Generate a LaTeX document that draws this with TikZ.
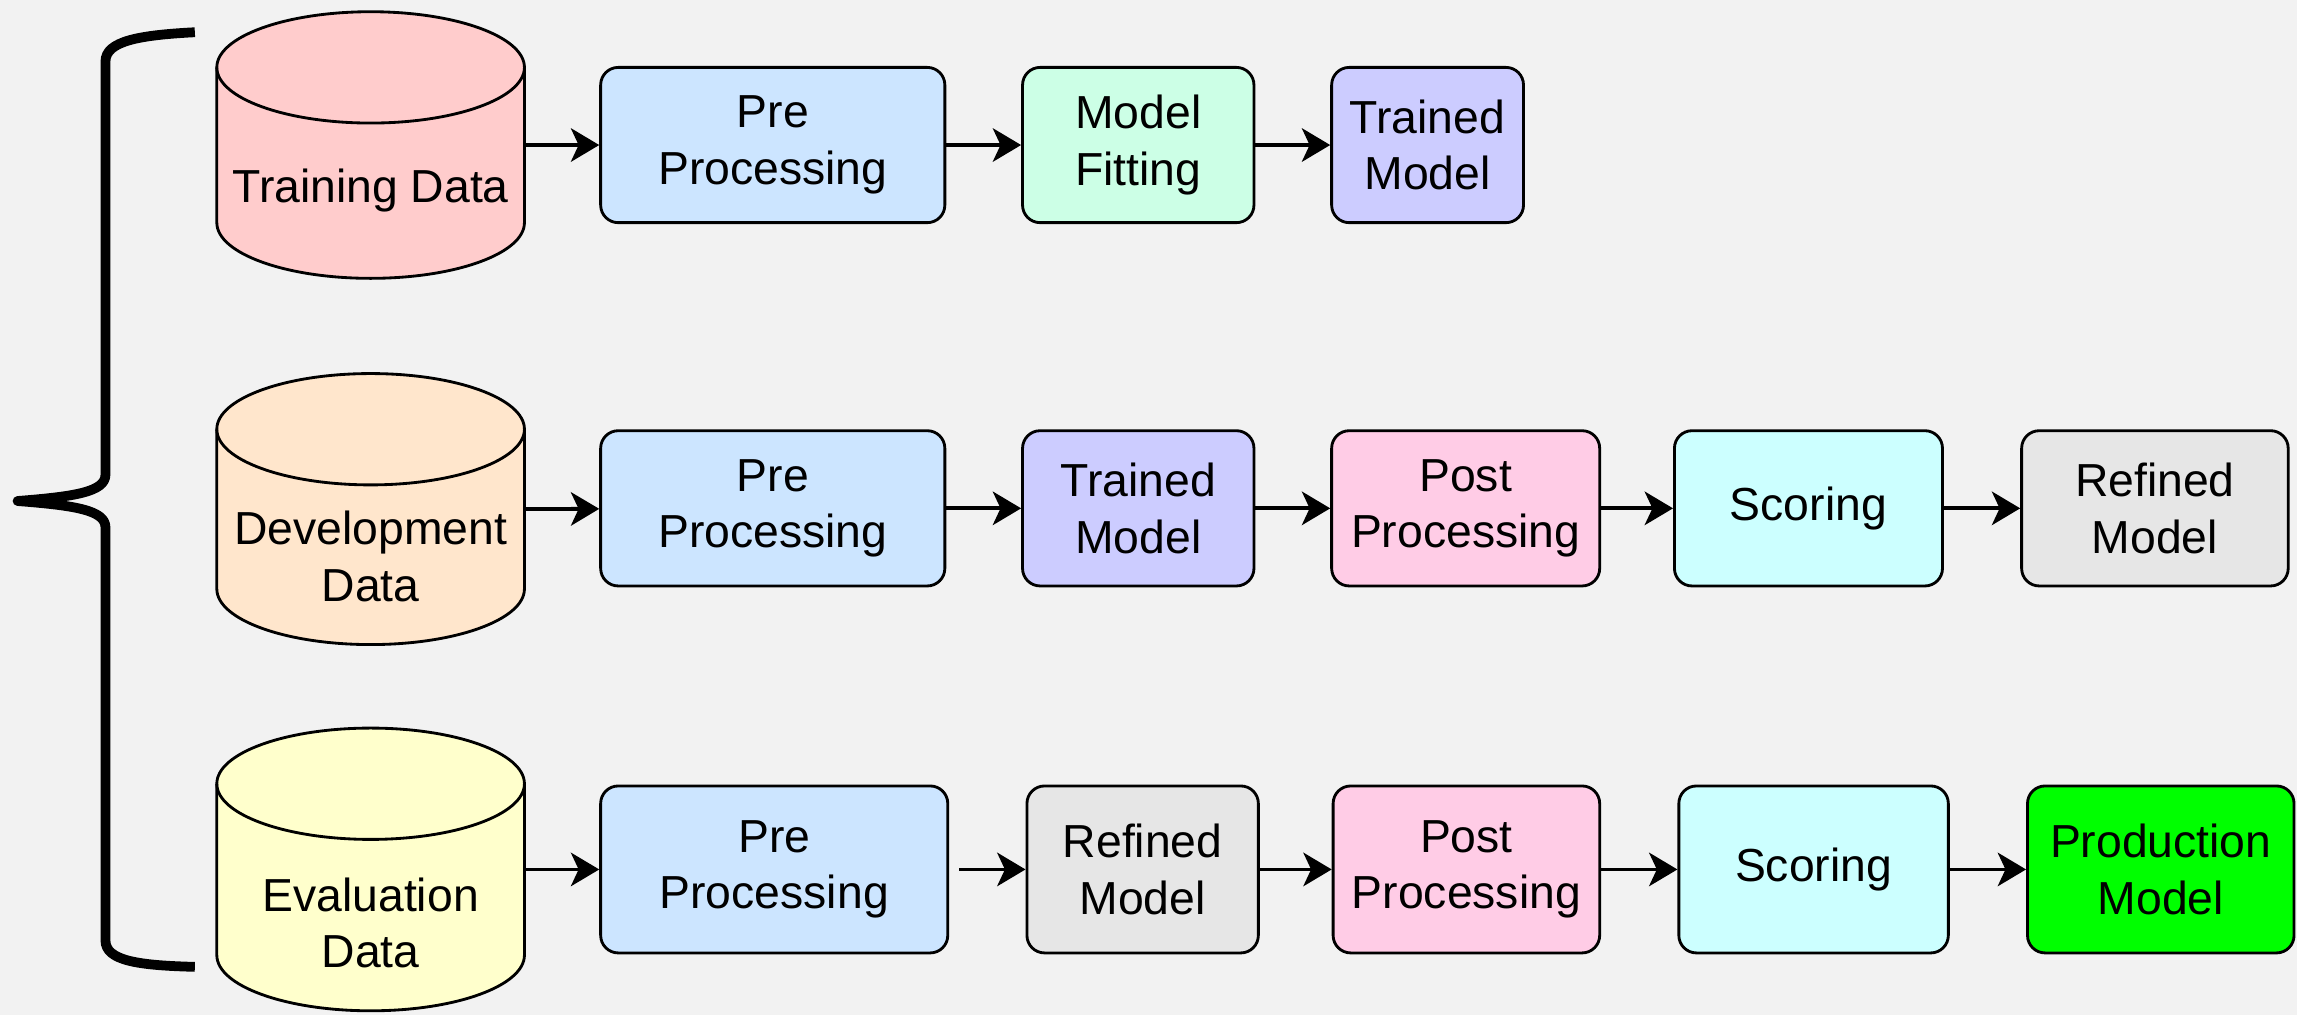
\documentclass[tikz,border=0pt]{standalone}
\usepackage{fontspec}
\setmainfont{Liberation Sans}
\usetikzlibrary{arrows.meta}

\definecolor{bggrey}{HTML}{F2F2F2}
\definecolor{trainred}{HTML}{FFCCCC}
\definecolor{devorange}{HTML}{FFE6CC}
\definecolor{evalyellow}{HTML}{FFFFCC}
\definecolor{preblue}{HTML}{CCE5FF}
\definecolor{fitgreen}{HTML}{CCFFE6}
\definecolor{modelblue}{HTML}{CCCCFF}
\definecolor{postpink}{HTML}{FFCCE6}
\definecolor{scorecyan}{HTML}{CCFFFF}
\definecolor{refinegrey}{HTML}{E6E6E6}
\definecolor{prodgreen}{HTML}{00FF00}

\tikzset{% styles for the pipeline
    stg/.style={draw=black, line width=1.1pt, rounded corners=0.24cm, align=center,
        inner sep=0pt, minimum height=2.12cm, font=\fontsize{18}{22}\selectfont},
    e/.style={-{Stealth[length=11pt, width=13pt, inset=3pt]}, line width=1.5pt},
    pics/drum/.style n args={3}{code={
        \draw[line width=1.1pt, fill=#1] (-105,#2) -- (-105,-#2)
            arc[start angle=180, end angle=360, x radius=105, y radius=38]
            -- (105,#2) arc[start angle=0, end angle=180, x radius=105, y radius=38] -- cycle;
        \draw[line width=1.1pt] (-105,#2) arc[start angle=180, end angle=360, x radius=105, y radius=38];
        \node[minimum width=4.2cm, minimum height=3.64cm, inner sep=0pt] (-body) at (0,0) {};
        \node[align=center, font=\fontsize{18}{22}\selectfont] (-text) at (0,22-#2) {#3};
    }}}

\begin{document}
\begin{tikzpicture}[x=0.02cm, y=0.02cm]
  \fill[bggrey] (0,0) rectangle (1568,-693);

  % brace grouping the three data sets
  \draw[line width=3.8pt, line join=round] (133,-22) .. controls (95,-24) and (72,-28) .. (72,-42)
      -- (72,-324) .. controls (72,-336) and (50,-339) .. (12,-342)
      .. controls (50,-345) and (72,-348) .. (72,-360)
      -- (72,-642) .. controls (72,-656) and (95,-659) .. (133,-660);

  % data sets
  \pic (train) at (253,-99) {drum={trainred}{53}{Training Data}};
  \pic (dev) at (253,-347.5) {drum={devorange}{54.5}{Development\\Data}};
  \pic (eval) at (253,-593.5) {drum={evalyellow}{58.5}{Evaluation\\Data}};

  % training
  \node[stg, fill=preblue, minimum width=4.7cm] (pre1) at (527.5,-99) {Pre\\Processing};
  \node[stg, fill=fitgreen, minimum width=3.16cm] (fit1) at (777,-99) {Model\\Fitting};
  \node[stg, fill=modelblue, minimum width=2.62cm] (model1) at (974.5,-99) {Trained\\Model};

  % development
  \node[stg, fill=preblue, minimum width=4.7cm] (pre2) at (527.5,-347) {Pre\\Processing};
  \node[stg, fill=modelblue, minimum width=3.16cm] (model2) at (777,-347) {Trained\\Model};
  \node[stg, fill=postpink, minimum width=3.66cm] (post2) at (1000.5,-347) {Post\\Processing};
  \node[stg, fill=scorecyan, minimum width=3.66cm] (score2) at (1234.5,-347) {Scoring};
  \node[stg, fill=refinegrey, minimum width=3.64cm] (refine2) at (1471,-347) {Refined\\Model};

  % evaluation
  \node[stg, fill=preblue, minimum width=4.74cm, minimum height=2.28cm] (pre3) at (528.5,-593.5) {Pre\\Processing};
  \node[stg, fill=refinegrey, minimum width=3.16cm, minimum height=2.28cm] (refine3) at (780,-593.5) {Refined\\Model};
  \node[stg, fill=postpink, minimum width=3.64cm, minimum height=2.28cm] (post3) at (1001,-593.5) {Post\\Processing};
  \node[stg, fill=scorecyan, minimum width=3.68cm, minimum height=2.28cm] (score3) at (1238,-593.5) {Scoring};
  \node[stg, fill=prodgreen, minimum width=3.64cm, minimum height=2.28cm] (prod3) at (1475,-593.5) {Production\\Model};

  \draw[e] (train-body.east) -- (pre1);
  \draw[e] (pre1) -- (fit1);
  \draw[e] (fit1) -- (model1);

  \draw[e] (dev-body.east) -- (pre2);
  \draw[e] (pre2) -- (model2);
  \draw[e] (model2) -- (post2);
  \draw[e] (post2) -- (score2);
  \draw[e] (score2) -- (refine2);

  \draw[e] (eval-body.east) -- (pre3);
  \draw[e, shorten <=4pt] (pre3) -- (refine3);
  \draw[e] (refine3) -- (post3);
  \draw[e] (post3) -- (score3);
  \draw[e] (score3) -- (prod3);
\end{tikzpicture}
\end{document}
